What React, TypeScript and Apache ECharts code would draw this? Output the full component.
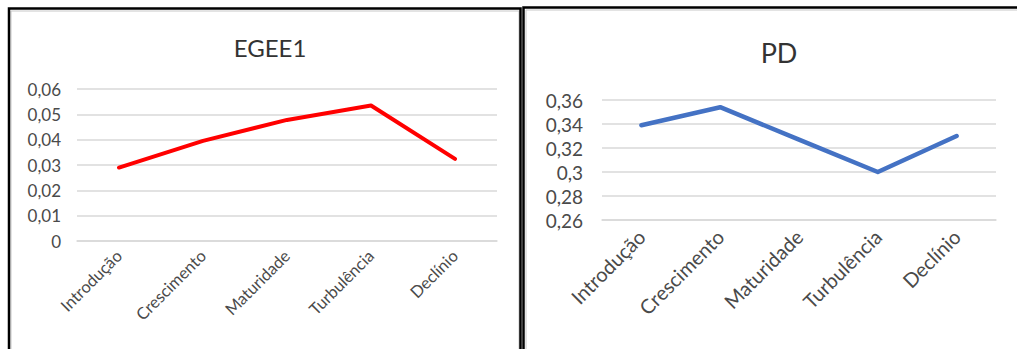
import React, { useEffect, useRef } from "react";
import * as echarts from "echarts";

const categories = ["Introdução", "Crescimento", "Maturidade", "Turbulência", "Declínio"];
const egeeValues = [0.029, 0.0395, 0.0478, 0.0535, 0.0324];
const pdValues = [0.339, 0.354, 0.327, 0.3, 0.33];
const egeeTitle = "EGEE1";
const pdTitle = "PD";

const FONT = "Lato";
const LABEL = "#4a4a4a";
const GRIDC = "#D9D9D9";

const fmt = (v: number) => parseFloat(v.toFixed(2)).toString().replace(".", ",");

export default function App() {
  const ref = useRef<HTMLDivElement>(null);
  useEffect(() => {
    document.body.style.margin = "0";
    const chart = echarts.init(ref.current!, null, { renderer: "svg" });
    chart.setOption({
      animation: false,
      backgroundColor: "#fff",
      title: [
        {
          text: egeeTitle,
          left: 265,
          top: 30,
          textAlign: "center",
          textStyle: { fontFamily: FONT, fontSize: 24, fontWeight: "normal", color: "#333" },
        },
        {
          text: pdTitle,
          left: 774,
          top: 34,
          textAlign: "center",
          textStyle: { fontFamily: FONT, fontSize: 27, fontWeight: "normal", color: "#333" },
        },
      ],
      grid: [
        { left: 77, right: 520, top: 89, bottom: 108 },
        { left: 602, right: 21, top: 100, bottom: 129 },
      ],
      xAxis: [
        {
          type: "category",
          gridIndex: 0,
          data: categories,
          boundaryGap: true,
          axisLine: { show: true, lineStyle: { color: GRIDC, width: 1.5 } },
          axisTick: { show: false },
          axisLabel: { rotate: 45, interval: 0, margin: 12, color: LABEL, fontFamily: FONT, fontSize: 16.5 },
        },
        {
          type: "category",
          gridIndex: 1,
          data: categories,
          boundaryGap: true,
          axisLine: { show: true, lineStyle: { color: GRIDC, width: 1.5 } },
          axisTick: { show: false },
          axisLabel: { rotate: 45, interval: 0, margin: 13, color: LABEL, fontFamily: FONT, fontSize: 20 },
        },
      ],
      yAxis: [
        {
          type: "value",
          gridIndex: 0,
          min: 0,
          max: 0.06,
          interval: 0.01,
          axisLine: { show: false },
          axisTick: { show: false },
          splitLine: { lineStyle: { color: GRIDC, width: 1.5 } },
          axisLabel: { formatter: fmt, margin: 16, color: LABEL, fontFamily: FONT, fontSize: 17 },
        },
        {
          type: "value",
          gridIndex: 1,
          min: 0.26,
          max: 0.36,
          interval: 0.02,
          axisLine: { show: false },
          axisTick: { show: false },
          splitLine: { lineStyle: { color: GRIDC, width: 1.5 } },
          axisLabel: { formatter: fmt, margin: 19, color: LABEL, fontFamily: FONT, fontSize: 19 },
        },
      ],
      series: [
        {
          type: "line",
          xAxisIndex: 0,
          yAxisIndex: 0,
          data: egeeValues,
          symbol: "none",
          lineStyle: { color: "#FF0000", width: 4, cap: "round", join: "round" },
        },
        {
          type: "line",
          xAxisIndex: 1,
          yAxisIndex: 1,
          data: pdValues,
          symbol: "none",
          lineStyle: { color: "#4472C4", width: 4.5, cap: "round", join: "round" },
        },
      ],
      graphic: [
        { type: "rect", shape: { x: 11, y: 11, width: 508, height: 360 }, style: { fill: "none", stroke: "#C8C8C8", lineWidth: 1 }, silent: true },
        { type: "rect", shape: { x: 9, y: 8.5, width: 511.5, height: 370 }, style: { fill: "none", stroke: "#000", lineWidth: 2.5 }, silent: true },
        { type: "rect", shape: { x: 526, y: 10, width: 500, height: 360 }, style: { fill: "none", stroke: "#C8C8C8", lineWidth: 1 }, silent: true },
        { type: "rect", shape: { x: 523.5, y: 7.5, width: 510, height: 370 }, style: { fill: "none", stroke: "#000", lineWidth: 2.5 }, silent: true },
      ],
    });
    return () => chart.dispose();
  }, []);
  return <div ref={ref} style={{ width: 1017, height: 349 }} />;
}
